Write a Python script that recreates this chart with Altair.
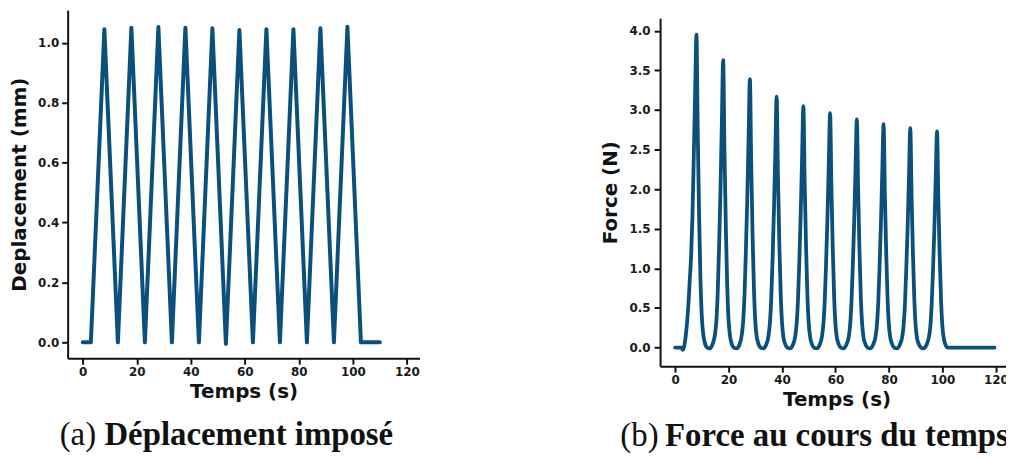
import altair as alt
import pandas as pd

# ---------------- data ----------------
disp_time = [0, 3, 8, 13, 18, 23, 28, 33, 38, 43, 48, 53, 58, 63, 68, 73,
             78, 83, 88, 93, 98, 103, 110]
disp_mm = [0, 0, 1.045, 0, 1.05, 0, 1.052, 0, 1.05, 0, 1.048, -0.005, 1.042,
           0, 1.045, 0, 1.045, 0, 1.048, 0, 1.053, 0, 0]

force_time = [
    0, 1, 2, 2.5, 2.9, 3.3,
    4, 5, 5.5, 6, 6.5, 7, 7.5, 8, 8.5, 9, 9.5, 10, 10.5, 11, 12, 13,
    14, 15, 15.5, 16, 16.5, 17, 17.5, 18, 18.5, 19, 19.5, 20, 20.5, 21, 22, 23,
    24, 25, 25.5, 26, 26.5, 27, 27.5, 28, 28.5, 29, 29.5, 30, 30.5, 31, 32, 33,
    34, 35, 35.5, 36, 36.5, 37, 37.5, 38, 38.5, 39, 39.5, 40, 40.5, 41, 42, 43,
    44, 45, 45.5, 46, 46.5, 47, 47.5, 48, 48.5, 49, 49.5, 50, 50.5, 51, 52, 53,
    54, 55, 55.5, 56, 56.5, 57, 57.5, 58, 58.5, 59, 59.5, 60, 60.5, 61, 62, 63,
    64, 65, 65.5, 66, 66.5, 67, 67.5, 68, 68.5, 69, 69.5, 70, 70.5, 71, 72, 73,
    74, 75, 75.5, 76, 76.5, 77, 77.5, 78, 78.5, 79, 79.5, 80, 80.5, 81, 82, 83,
    84, 85, 85.5, 86, 86.5, 87, 87.5, 88, 88.5, 89, 89.5, 90, 90.5, 91, 92, 93,
    94, 95, 95.5, 96, 96.5, 97, 97.5, 98, 98.5, 99, 99.5, 100, 100.5, 101, 102, 103,
    110, 119.5,
]
force_n = [
    0, 0, 0, 0, -0.03, 0.0,
    0.15, 0.55, 0.85, 1.15, 1.65, 2.4, 3.2, 3.95, 2.69, 1.66, 0.87, 0.40, 0.18, 0.08, 0.0, -0.01,
    0.04, 0.18, 0.36, 0.73, 1.31, 2.00, 2.83, 3.63, 2.47, 1.52, 0.80, 0.36, 0.16, 0.07, 0.0, -0.01,
    0.03, 0.17, 0.34, 0.68, 1.22, 1.86, 2.64, 3.39, 2.31, 1.42, 0.75, 0.34, 0.15, 0.07, 0.0, -0.01,
    0.03, 0.16, 0.32, 0.63, 1.14, 1.74, 2.47, 3.17, 2.16, 1.33, 0.70, 0.32, 0.14, 0.06, 0.0, -0.01,
    0.03, 0.15, 0.31, 0.61, 1.10, 1.68, 2.38, 3.05, 2.07, 1.28, 0.67, 0.31, 0.14, 0.06, 0.0, -0.01,
    0.03, 0.15, 0.30, 0.59, 1.07, 1.63, 2.31, 2.96, 2.01, 1.24, 0.65, 0.30, 0.13, 0.06, 0.0, -0.01,
    0.03, 0.14, 0.29, 0.58, 1.04, 1.58, 2.25, 2.88, 1.96, 1.21, 0.63, 0.29, 0.13, 0.06, 0.0, -0.01,
    0.03, 0.14, 0.28, 0.56, 1.02, 1.55, 2.20, 2.82, 1.92, 1.18, 0.62, 0.28, 0.13, 0.06, 0.0, -0.01,
    0.03, 0.14, 0.28, 0.55, 1.00, 1.52, 2.16, 2.77, 1.88, 1.16, 0.61, 0.28, 0.12, 0.06, 0.0, -0.01,
    0.03, 0.14, 0.27, 0.55, 0.98, 1.50, 2.13, 2.73, 1.86, 1.15, 0.60, 0.27, 0.12, 0.05, 0.0, 0.0,
    0.0, 0.0,
]

time_ticks = [0, 20, 40, 60, 80, 100, 120]
disp_ticks = [0.0, 0.2, 0.4, 0.6, 0.8, 1.0]
force_ticks = [0.0, 0.5, 1.0, 1.5, 2.0, 2.5, 3.0, 3.5, 4.0]

caption_labels = ["(a)", "(b)"]
caption_texts = ["Déplacement imposé", "Force au cours du temps"]

x_title = "Temps (s)"
disp_title = "Deplacement (mm)"
force_title = "Force (N)"

# ---------------- styling ----------------
COLOR = "#0b4f7c"
SANS = "DejaVu Sans"
SERIF = "Liberation Serif"
CAP_SIZE = 33
H = 350
SHIFT = 8  # right panel sits a little lower than the left one


def axis_x():
    return alt.Axis(values=time_ticks, format="d", title=x_title,
                    labelPadding=2, titlePadding=5)


def caption_layers(idx, x_label, x_text, y_base):
    lab = pd.DataFrame({"c": [caption_labels[idx]]})
    txt = pd.DataFrame({"c": [caption_texts[idx]]})
    l1 = alt.Chart(lab).mark_text(
        align="left", baseline="alphabetic", font=SERIF, fontSize=CAP_SIZE,
        fontWeight="normal", color="#111111"
    ).encode(x=alt.value(x_label), y=alt.value(y_base), text="c:N")
    l2 = alt.Chart(txt).mark_text(
        align="left", baseline="alphabetic", font=SERIF, fontSize=CAP_SIZE,
        fontWeight="bold", color="#111111"
    ).encode(x=alt.value(x_text), y=alt.value(y_base), text="c:N")
    return l1, l2


disp_df = pd.DataFrame({"t": disp_time, "d": disp_mm})
force_df = pd.DataFrame({"t": force_time, "f": force_n})

left_line = alt.Chart(disp_df).mark_line(
    color=COLOR, strokeWidth=4, strokeJoin="round", strokeCap="round"
).encode(
    x=alt.X("t:Q", scale=alt.Scale(domain=[-5.6, 124.7], nice=False, zero=False),
            axis=axis_x()),
    y=alt.Y("d:Q", scale=alt.Scale(domain=[-0.053, 1.108], nice=False, zero=False),
            axis=alt.Axis(values=disp_ticks, format=".1f", title=disp_title,
                          labelPadding=3, titlePadding=8)),
)
la1, la2 = caption_layers(0, -8, 37, 437)
left = alt.layer(left_line, la1, la2).properties(width=354, height=H)

right_line = alt.Chart(force_df).mark_line(
    color=COLOR, strokeWidth=3.8, strokeJoin="round", strokeCap="round",
    interpolate="monotone"
).encode(
    x=alt.X("t:Q", scale=alt.Scale(domain=[-5.6, 126.4], nice=False, zero=False),
            axis=axis_x()),
    y=alt.Y("f:Q", scale=alt.Scale(domain=[-0.235, 4.158], nice=False, zero=False,
                                   range=[H + SHIFT, SHIFT]),
            axis=alt.Axis(values=force_ticks, format=".1f", title=force_title,
                          labelPadding=4, titlePadding=9)),
)
rb1, rb2 = caption_layers(1, -40, 5, 430 + SHIFT)
right = alt.layer(right_line, rb1, rb2).properties(width=355, height=H + SHIFT)

chart = alt.hconcat(left, right, spacing=181).properties(
    padding={"left": 1, "top": 1, "right": -7, "bottom": -1},
    background="white",
).configure_view(stroke=None).configure_axis(
    grid=False,
    domainColor="#111111", domainWidth=2,
    tickColor="#111111", tickWidth=2, tickSize=6,
    labelFont=SANS, labelFontWeight="bold", labelFontSize=12, labelColor="#1a1a1a",
    titleFont=SANS, titleFontWeight="bold", titleFontSize=20, titleColor="#111111",
)

chart.save("out.html", embed_options={"renderer": "svg", "actions": False})
